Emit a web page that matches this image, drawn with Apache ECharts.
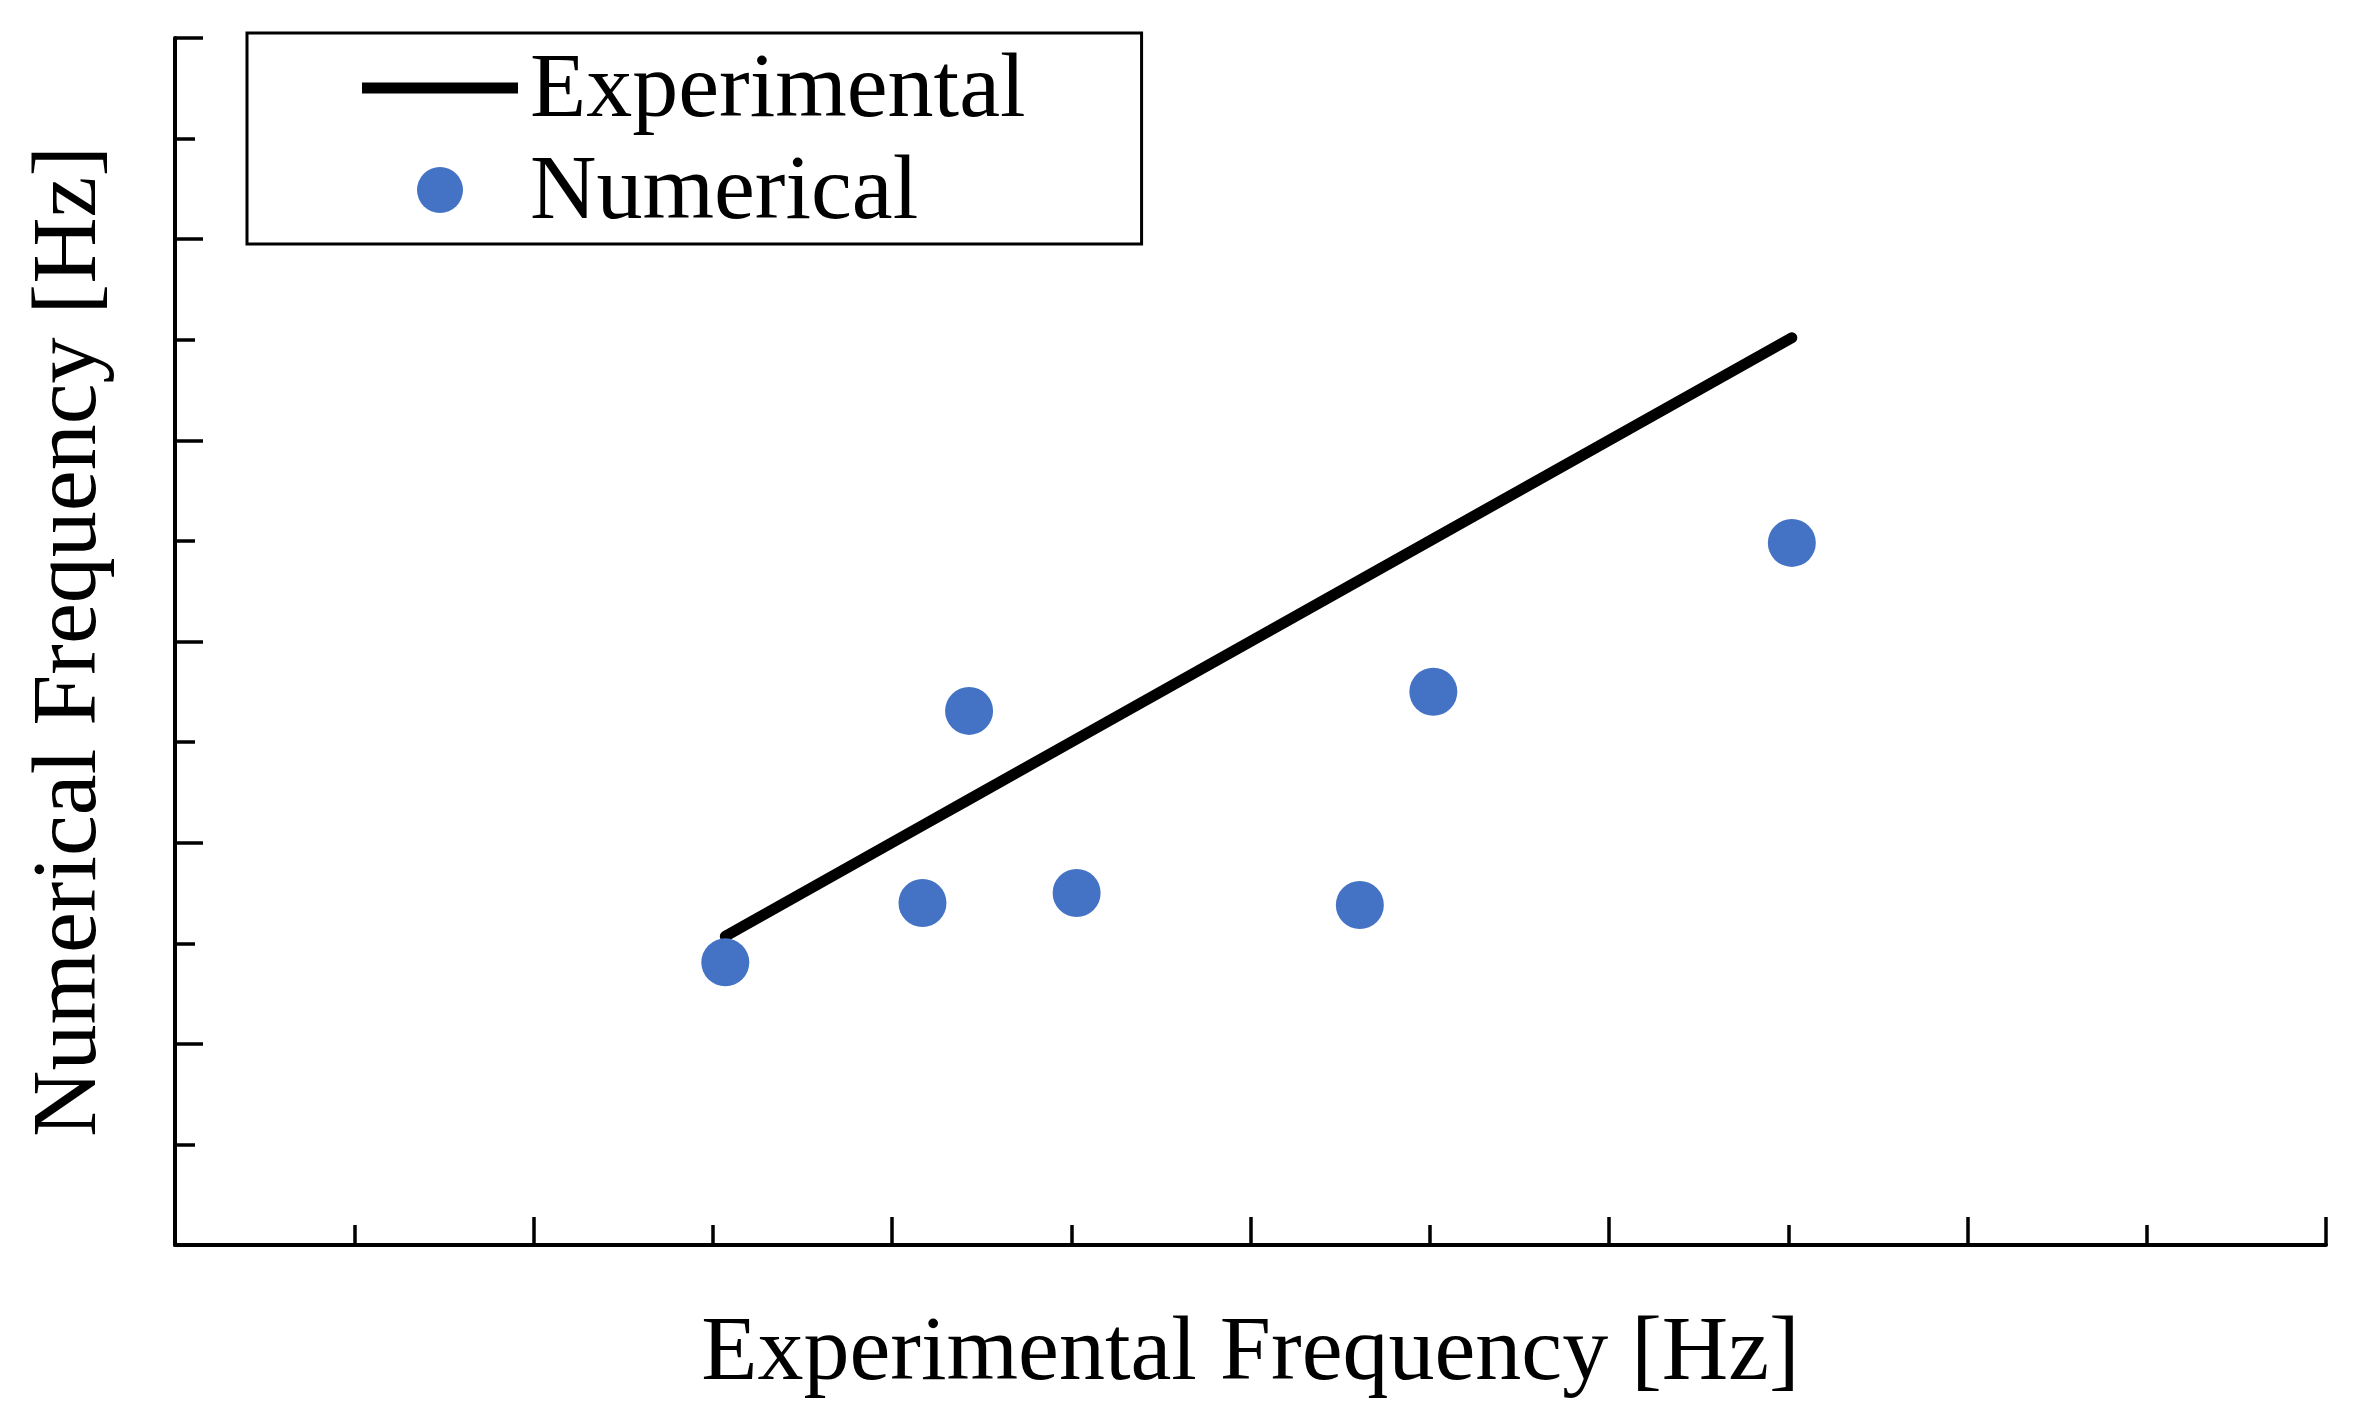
<!DOCTYPE html>
<html>
<head>
<meta charset="utf-8">
<script src="https://cdn.jsdelivr.net/npm/echarts@6/dist/echarts.min.js"></script>
<style>
  html, body { margin: 0; padding: 0; background: #fff; }
  #chart { width: 2354px; height: 1417px; }
</style>
</head>
<body>
<div id="chart"></div>
<script>
    // values (axis units: one minor tick = 1)
    var experimentalFreq = [3.07, 4.17, 4.43, 5.03, 6.61, 7.02, 9.02];
    var numericalFreq = [2.81, 3.40, 5.31, 3.50, 3.38, 5.50, 6.98];
    var seriesNames = ['Experimental', 'Numerical'];
    var axisNames = ['Experimental Frequency [Hz]', 'Numerical Frequency [Hz]'];

    var serif = '"Liberation Serif", "Times New Roman", serif';

    var lineData = experimentalFreq.map(function (v) { return [v, v]; });
    var dotData = experimentalFreq.map(function (v, i) { return [v, numericalFreq[i]]; });

    function axis(name, gap) {
        return {
            type: 'value',
            min: 0,
            max: 12,
            interval: 2,
            name: name,
            nameLocation: 'middle',
            nameGap: gap,
            nameTextStyle: { fontFamily: serif, fontSize: 92, color: '#000' },
            axisLine: { show: true, onZero: false, lineStyle: { color: '#000', width: 4 } },
            axisTick: { show: true, inside: true, length: 28, lineStyle: { color: '#000', width: 3.5 } },
            minorTick: { show: true, splitNumber: 2, length: 20, lineStyle: { color: '#000', width: 3.5 } },
            axisLabel: { show: false },
            splitLine: { show: false }
        };
    }

    var chart = echarts.init(document.getElementById('chart'));
    chart.setOption({
        animation: false,
        backgroundColor: '#fff',
        grid: { left: 175, right: 28, top: 38, bottom: 172, containLabel: false, outerBoundsMode: 'none' },
        legend: {
            orient: 'vertical',
            left: 247,
            top: 33,
            itemGap: 2,
            itemWidth: 156,
            itemHeight: 46,
            padding: [5, 116, 4, 115],
            borderColor: '#000',
            borderWidth: 3,
            borderRadius: 0,
            backgroundColor: '#fff',
            formatter: '{t|{name}}',
            textStyle: {
                fontFamily: serif, fontSize: 92, color: '#000',
                rich: {
                    t: { fontFamily: serif, fontSize: 92, lineHeight: 92, color: '#000', padding: [8, 0, 0, 7] }
                }
            },
            data: [
                { name: seriesNames[0], icon: 'path://M0,0 L156,0 L156,11 L0,11 Z' },
                { name: seriesNames[1], icon: 'circle' }
            ]
        },
        xAxis: axis(axisNames[0], 64),
        yAxis: axis(axisNames[1], 58),
        series: [
            {
                name: seriesNames[0],
                type: 'line',
                data: lineData,
                symbol: 'none',
                z: 2,
                itemStyle: { color: '#000' },
                lineStyle: { color: '#000', width: 11, cap: 'round' }
            },
            {
                name: seriesNames[1],
                type: 'scatter',
                data: dotData,
                symbolSize: 48,
                z: 3,
                itemStyle: { color: '#4472C4', opacity: 1 }
            }
        ]
    });
</script>
</body>
</html>
